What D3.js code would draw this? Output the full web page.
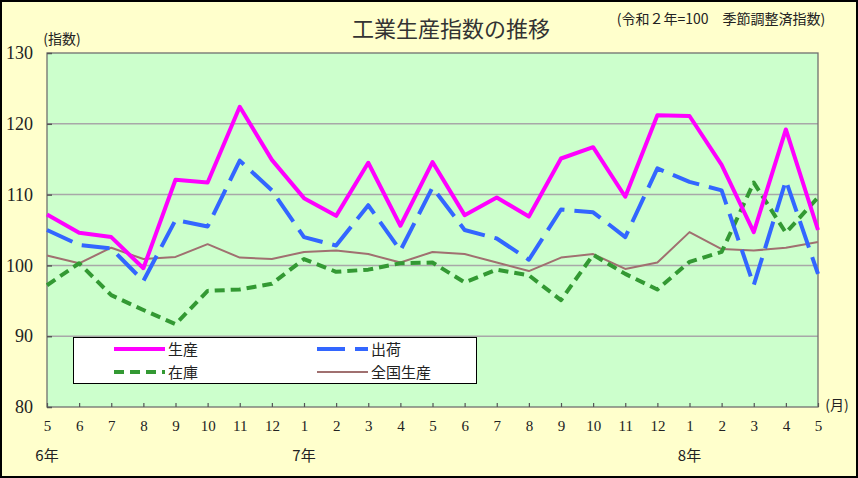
<!DOCTYPE html>
<html><head><meta charset="utf-8">
<script src="https://cdn.jsdelivr.net/npm/d3@7"></script>
<style>
html,body{margin:0;padding:0;background:#fff;}
svg{display:block;}
</style></head>
<body>
<script>
const months = ["5","6","7","8","9","10","11","12","1","2","3","4","5","6","7","8","9","10","11","12","1","2","3","4","5"];
const yearLabels = [{idx:0,text:"6年"},{idx:8,text:"7年"},{idx:20,text:"8年"}];
const seisan   = [107.2,104.6,104.0,99.6,112.1,111.7,122.4,114.9,109.5,107.0,114.5,105.6,114.6,107.1,109.6,106.9,115.1,116.7,109.7,121.2,121.1,114.2,104.7,119.2,105.0];
const shukka   = [105.0,102.9,102.4,97.8,106.4,105.5,114.8,110.6,104.0,102.8,108.5,102.1,111.0,105.0,103.8,100.8,107.9,107.5,104.0,113.7,111.8,110.6,97.2,112.0,98.8];
const zaiko    = [97.2,100.3,95.8,93.7,91.7,96.4,96.6,97.4,100.9,99.1,99.4,100.3,100.4,97.6,99.4,98.6,95.1,101.5,98.8,96.6,100.5,101.9,111.7,104.6,109.6];
const zenkoku  = [101.4,100.3,102.5,100.9,101.2,103.0,101.1,100.9,101.9,102.1,101.6,100.4,101.9,101.6,100.4,99.2,101.1,101.6,99.5,100.4,104.7,102.3,102.1,102.5,103.3];
const yTicks = [80,90,100,110,120,130];

const W=858,H=478;
const svg=d3.select("body").append("svg").attr("width",W).attr("height",H);
svg.append("rect").attr("x",1).attr("y",1).attr("width",W-2).attr("height",H-2)
  .attr("fill","#FFFFCC").attr("stroke","#000").attr("stroke-width",2);

const L=47,R=818,T=53,B=407;
const x=d3.scaleLinear().domain([0,months.length-1]).range([L,R]);
const y=d3.scaleLinear().domain([80,130]).range([B,T]);

svg.append("rect").attr("x",L).attr("y",T).attr("width",R-L).attr("height",B-T)
  .attr("fill","#CCFFCC");

// grid
svg.append("g").selectAll("line").data(yTicks.filter(d=>d>80&&d<130)).join("line")
  .attr("x1",L).attr("x2",R).attr("y1",d=>y(d)).attr("y2",d=>y(d))
  .attr("stroke","#A8A8A8").attr("stroke-width",1.5);

// plot frame
svg.append("rect").attr("x",L).attr("y",T).attr("width",R-L).attr("height",B-T)
  .attr("fill","none").attr("stroke","#707070").attr("stroke-width",1.3);

// axes
const serif='"Liberation Serif","DejaVu Serif",serif';
const cjk='"Noto Sans CJK JP","Noto Sans",sans-serif';
const yAxis=d3.axisLeft(y).tickValues(yTicks).tickSize(-5).tickPadding(14).tickFormat(d3.format("d"));
const gy=svg.append("g").attr("transform",`translate(${L},0)`).call(yAxis);
gy.select(".domain").remove();
gy.selectAll(".tick line").attr("stroke","#555").attr("stroke-width",1.5);
gy.selectAll(".tick text").attr("font-family",serif).attr("font-size",18).attr("fill","#222");

const xAxis=d3.axisBottom(x).tickValues(d3.range(months.length)).tickSize(-4).tickPadding(13).tickFormat(i=>months[i]);
const gx=svg.append("g").attr("transform",`translate(0,${B})`).call(xAxis);
gx.select(".domain").remove();
gx.selectAll(".tick line").attr("stroke","#555").attr("stroke-width",1.2);
gx.selectAll(".tick text").attr("font-family",serif).attr("font-size",15).attr("fill","#222");

svg.append("g").selectAll("text").data(yearLabels).join("text")
  .attr("x",d=>x(d.idx)).attr("y",461).attr("text-anchor","middle")
  .attr("font-family",cjk).attr("font-size",15).attr("fill","#222").text(d=>d.text);

svg.append("text").attr("x",837).attr("y",410).attr("text-anchor","middle")
  .attr("font-family",cjk).attr("font-size",14).attr("fill","#222").text("(月)");
svg.append("text").attr("x",62).attr("y",44).attr("text-anchor","middle")
  .attr("font-family",cjk).attr("font-size",14).attr("fill","#222").text("(指数)");
svg.append("text").attr("x",451).attr("y",37).attr("text-anchor","middle")
  .attr("font-family",cjk).attr("font-size",22).attr("fill","#333").text("工業生産指数の推移");
svg.append("text").attr("x",721).attr("y",24).attr("text-anchor","middle")
  .attr("font-family",cjk).attr("font-size",14).attr("fill","#222").text("(令和２年=100　季節調整済指数)");

// series
const series=[
  {name:"生産",data:seisan,color:"#FF00FF",w:4,dash:null},
  {name:"出荷",data:shukka,color:"#3366FF",w:4,dash:"28,10"},
  {name:"在庫",data:zaiko,color:"#339933",w:4,dash:"10,6"},
  {name:"全国生産",data:zenkoku,color:"#A07070",w:2,dash:null}
];
const line=d3.line().x((d,i)=>x(i)).y(d=>y(d));
const drawOrder=[3,2,1,0];
svg.append("g").selectAll("path").data(drawOrder.map(i=>series[i])).join("path")
  .attr("d",d=>line(d.data)).attr("fill","none").attr("stroke",d=>d.color)
  .attr("stroke-width",d=>d.w).attr("stroke-dasharray",d=>d.dash)
  .attr("stroke-linejoin","round");

// legend
const lg=svg.append("g");
lg.append("rect").attr("x",73.5).attr("y",337.5).attr("width",403).attr("height",46)
  .attr("fill","#fff").attr("stroke","#000").attr("stroke-width",1);
const pos=[{x:114,y:349},{x:317,y:349},{x:114,y:372},{x:317,y:372}];
series.forEach((s,i)=>{
  const p=pos[i];
  lg.append("line").attr("x1",p.x).attr("x2",p.x+51).attr("y1",p.y).attr("y2",p.y)
    .attr("stroke",s.color).attr("stroke-width",s.w).attr("stroke-dasharray",s.dash);
  lg.append("text").attr("x",p.x+54).attr("y",p.y+5.5).attr("font-family",cjk)
    .attr("font-size",15).attr("fill","#222").text(s.name);
});
</script>
</body></html>
